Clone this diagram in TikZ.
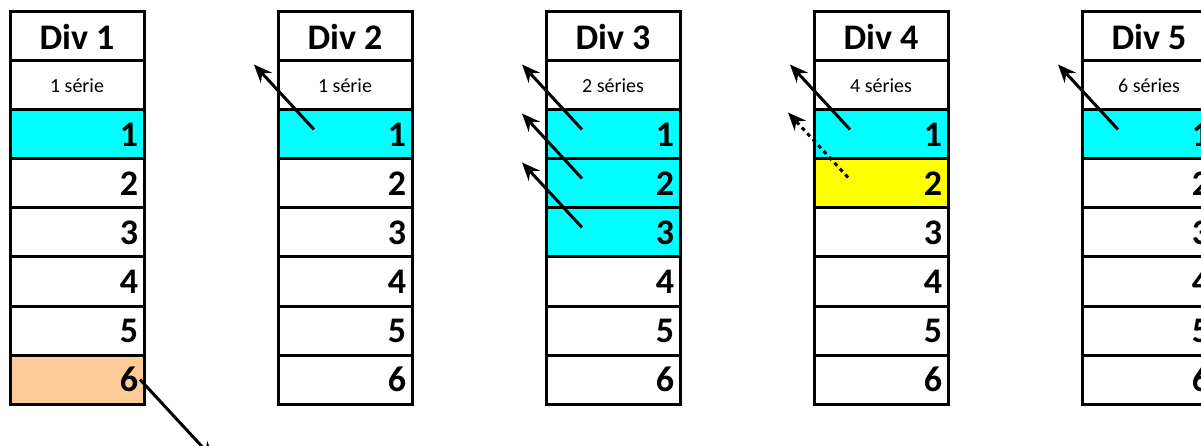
\documentclass[tikz,border=0pt]{standalone}
\usepackage{fontspec}
\setmainfont{Carlito}
\usetikzlibrary{arrows.meta, positioning, calc, backgrounds}

\definecolor{peach}{RGB}{255,204,153}
\definecolor{aqua}{RGB}{0,255,255}
\definecolor{lemon}{RGB}{255,255,0}

\begin{document}
\begin{tikzpicture}[
            x = 1pt, y = -1pt, % pixel grid, y going down
            > = {Stealth[length=18pt, width=15pt]}, % arrow head style
            line width = 3pt, % line style
            node distance = 0pt % cells touch each other
        ]

        \tikzstyle{cell}=[
            draw = black,
            line width = 3pt,
            outer sep = 0pt,
            minimum width = 134pt,
            minimum height = 49pt
        ]
        \tikzstyle{head}=[cell, font = \fontsize{36}{40}\selectfont\bfseries]
        \tikzstyle{sub}=[cell, font = \fontsize{20}{24}\selectfont]
        \tikzstyle{num}=[cell, font = \fontsize{36}{40}\selectfont\bfseries,
            inner xsep = 6pt, text width = 122pt, align = right]

        \useasboundingbox (0,0) rectangle (1201,446);

        \foreach \d/\s in {1/1 série, 2/1 série, 3/2 séries, 4/4 séries, 5/6 séries} {
            \node[head] (d\d-h) at ({77 + 268*(\d-1)}, 36.5) {Div \d};
            \node[sub] (d\d-s) [below=of d\d-h] {\s};
            \node[num] (d\d-1) [below=of d\d-s] {1};
            \foreach \r [count=\p from 1] in {2,...,6}
                \node[num] (d\d-\r) [below=of d\d-\p] {\r};
        }

        \begin{scope}[on background layer]
            \foreach \c/\col in {d1-1/aqua, d1-6/peach, d2-1/aqua, d3-1/aqua, d3-2/aqua,
                    d3-3/aqua, d4-1/aqua, d4-2/lemon, d5-1/aqua}
                \fill[\col] (\c.north west) rectangle (\c.south east);
        \end{scope}

        \foreach \c in {d2-1, d3-1, d3-2, d3-3, d4-1, d5-1} {
            \coordinate (\c-a) at ($(\c.west) + (36,-5)$);
            \coordinate (\c-b) at ($(\c-a) + (-60,-65)$);
            \draw[->] (\c-a) -- (\c-b);
        }

        \coordinate (d4-2-a) at ($(d4-2.west) + (34,-6)$);
        \coordinate (d4-2-b) at ($(d4-2-a) + (-60,-65)$);
        \draw[->, dash pattern = on 4pt off 4pt] (d4-2-a) -- (d4-2-b);

        \coordinate (d1-6-a) at ($(d1-6.east) + (-4,0)$);
        \coordinate (d1-6-b) at ($(d1-6-a) + (74,80)$);
        \draw[->] (d1-6-a) -- (d1-6-b);

        %\draw[red] (0,0) rectangle (1201,446);
    \end{tikzpicture}
\end{document}
